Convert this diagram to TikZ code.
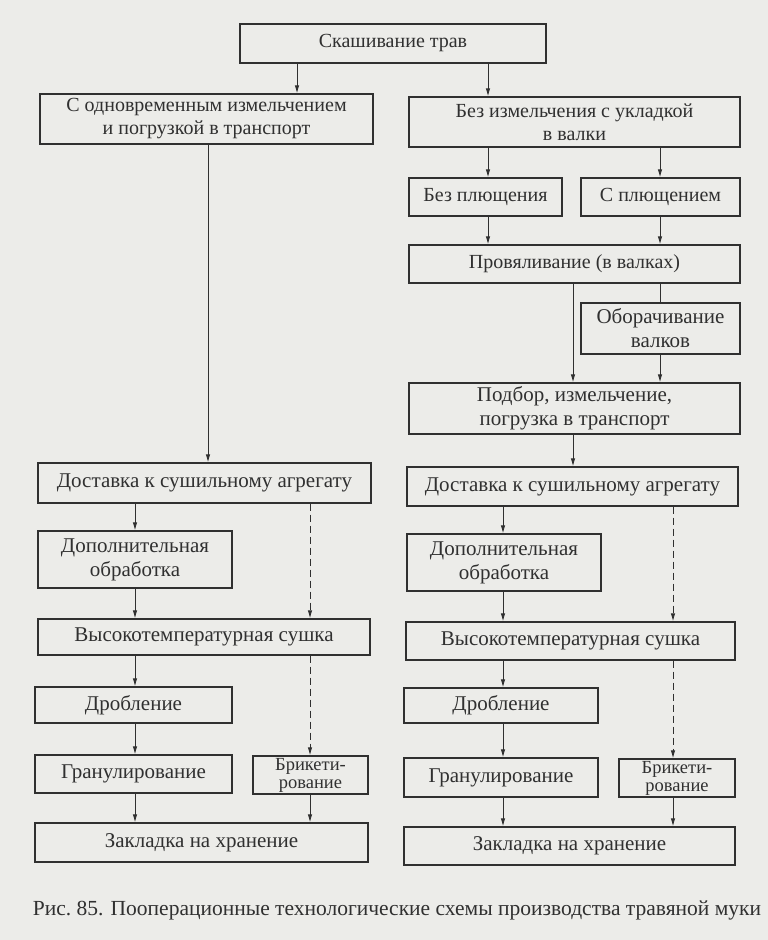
\documentclass[tikz,border=0pt]{standalone}
\usepackage{fontspec}
\setmainfont{Liberation Serif}
\usetikzlibrary{arrows.meta, calc, positioning}
\definecolor{paper}{RGB}{236,236,233}
\definecolor{ink}{RGB}{48,48,48}
\tikzset{
  box/.style={draw=ink, line width=1.3pt, inner sep=0pt, align=center, text=ink,
    font=\fontsize{21}{24}\selectfont},
  topbox/.style={box, font=\fontsize{20}{23}\selectfont},
  tightbox/.style={box, font=\fontsize{18.5}{18}\selectfont},
  dashline/.style={dash pattern=on 7pt off 4pt},
}
\begin{document}
\begin{tikzpicture}[x=1pt, y=-1pt, >={Latex[length=8pt,width=4.5pt]}, line width=0.9pt, color=ink]
\fill[paper] (0,0) rectangle (768,940);
\useasboundingbox (0,0) rectangle (768,940);
% first stage
\node[topbox, minimum width=306pt, minimum height=39pt] at (393,43.5) (skash) {Скашивание трав};
\node[topbox, minimum width=333pt, minimum height=50pt] at (206.5,119) (odnovr) {С одновременным измельчением\\и погрузкой в транспорт};
\node[topbox, minimum width=331pt, minimum height=50pt] at (574.5,122) (bezizm) {Без измельчения с укладкой\\в валки};
\node[topbox, minimum width=153pt, minimum height=38pt] at (485.5,197) (bezpl) {Без плющения};
\node[topbox, minimum width=159pt, minimum height=38pt] at (660.5,197) (spl) {С плющением};
\node[topbox, minimum width=331pt, minimum height=38pt] at (574.5,264) (provyal) {Провяливание (в валках)};
\node[box, minimum width=159pt, minimum height=51pt] at (660.5,328.5) (oborach) {Оборачивание\\валков};
\node[box, minimum width=331pt, minimum height=51pt] at (574.5,408.5) (podbor) {Подбор, измельчение,\\погрузка в транспорт};
% left scheme
\node[box, minimum width=333pt, minimum height=40pt] at (204.5,483) (dostL) {Доставка к сушильному агрегату};
\node[box, minimum width=194pt, minimum height=57pt] at (135,559.5) (dopL) {Дополнительная\\обработка};
\node[box, minimum width=332pt, minimum height=36pt] at (204,637) (vysL) {Высокотемпературная сушка};
\node[box, minimum width=197pt, minimum height=36pt] at (133.5,705) (drobL) {Дробление};
\node[box, minimum width=197pt, minimum height=38pt] at (133.5,774) (granL) {Гранулирование};
\node[tightbox, minimum width=115pt, minimum height=38pt] at (310.5,775) (brikL) {Брикети-\\рование};
\node[box, minimum width=333pt, minimum height=39pt] at (201.5,842.5) (zaklL) {Закладка на хранение};
% right scheme
\node[box, minimum width=331pt, minimum height=39pt] at (572.5,486.5) (dostR) {Доставка к сушильному агрегату};
\node[box, minimum width=194pt, minimum height=57pt] at (504,562.5) (dopR) {Дополнительная\\обработка};
\node[box, minimum width=329pt, minimum height=38pt] at (570.5,641) (vysR) {Высокотемпературная сушка};
\node[box, minimum width=194pt, minimum height=35pt] at (501,705.5) (drobR) {Дробление};
\node[box, minimum width=194pt, minimum height=39pt] at (501,777.5) (granR) {Гранулирование};
\node[tightbox, minimum width=116pt, minimum height=38pt] at (677,778) (brikR) {Брикети-\\рование};
\node[box, minimum width=331pt, minimum height=38pt] at (569.5,846) (zaklR) {Закладка на хранение};
% caption
\node[text=ink, inner sep=0pt, font=\fontsize{21.5}{24}\selectfont] at (397,910) (caption) {Рис.~85. Пооперационные технологические схемы производства травяной муки};
% connector columns
\coordinate (ca) at (297,0);
\coordinate (cb) at (488,0);
\coordinate (cc) at (660,0);
\coordinate (cd) at (573,0);
\coordinate (ce) at (208,0);
\coordinate (cf) at (135,0);
\coordinate (cg) at (310,0);
\coordinate (ch) at (503,0);
\coordinate (ci) at (673,0);
\draw[->] (skash.south -| ca) -- (odnovr.north -| ca);
\draw[->] (skash.south -| cb) -- (bezizm.north -| cb);
\draw[->] (bezizm.south -| cb) -- (bezpl.north -| cb);
\draw[->] (bezizm.south -| cc) -- (spl.north -| cc);
\draw[->] (bezpl.south -| cb) -- (provyal.north -| cb);
\draw[->] (spl.south -| cc) -- (provyal.north -| cc);
\draw (provyal.south -| cc) -- (oborach.north -| cc);
\draw[->] (provyal.south -| cd) -- (podbor.north -| cd);
\draw[->] (oborach.south -| cc) -- (podbor.north -| cc);
\draw[->] (podbor.south -| cd) -- (dostR.north -| cd);
\draw[->] (odnovr.south -| ce) -- (dostL.north -| ce);
% left chain
\draw[->] (dostL.south -| cf) -- (dopL.north -| cf);
\draw[->] (dopL.south -| cf) -- (vysL.north -| cf);
\draw[->] (vysL.south -| cf) -- (drobL.north -| cf);
\draw[->] (drobL.south -| cf) -- (granL.north -| cf);
\draw[->] (granL.south -| cf) -- (zaklL.north -| cf);
\draw[->, dashline] (dostL.south -| cg) -- (vysL.north -| cg);
\draw[->, dashline] (vysL.south -| cg) -- (brikL.north -| cg);
\draw[->] (brikL.south -| cg) -- (zaklL.north -| cg);
% right chain
\draw[->] (dostR.south -| ch) -- (dopR.north -| ch);
\draw[->] (dopR.south -| ch) -- (vysR.north -| ch);
\draw[->] (vysR.south -| ch) -- (drobR.north -| ch);
\draw[->] (drobR.south -| ch) -- (granR.north -| ch);
\draw[->] (granR.south -| ch) -- (zaklR.north -| ch);
\draw[->, dashline] (dostR.south -| ci) -- (vysR.north -| ci);
\draw[->, dashline] (vysR.south -| ci) -- (brikR.north -| ci);
\draw[->] (brikR.south -| ci) -- (zaklR.north -| ci);
\end{tikzpicture}
\end{document}
